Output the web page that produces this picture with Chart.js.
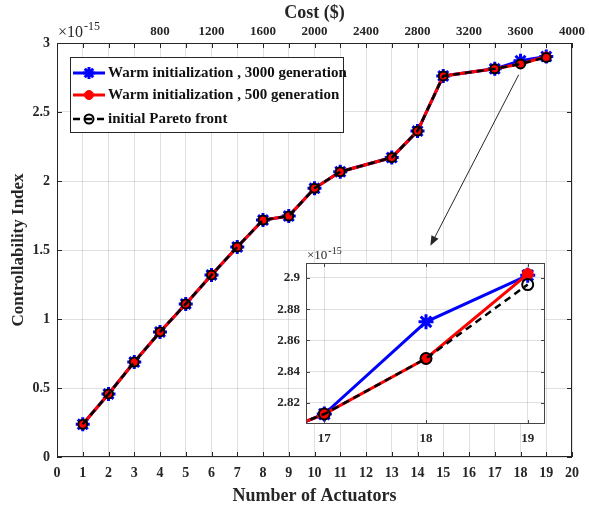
<!DOCTYPE html>
<html>
<head>
    <title>Controllability Index vs Number of Actuators</title>
    <script src="https://cdn.jsdelivr.net/npm/chart.js@4"></script>
    <style>
        body {
            margin: 0;
            background: #fff;
        }

        .wrap {
            position: relative;
            width: 589px;
            height: 508px;
        }

        #main {
            position: absolute;
            left: 0;
            top: 0;
        }

        #zoom {
            position: absolute;
            left: 262px;
            top: 245px;
        }
    </style>
</head>
<body>
<div class="wrap">
    <canvas id="main" width="589" height="508"></canvas>
    <canvas id="zoom" width="295" height="205"></canvas>
</div>

<script>
    // values are in units of 1e-15
    const actuators = [1, 2, 3, 4, 5, 6, 7, 8, 9, 10, 11, 13, 14, 15, 17, 18, 19];
    const warm3000 = [0.237, 0.457, 0.688, 0.906, 1.109, 1.319, 1.522, 1.717, 1.746, 1.947, 2.067, 2.170, 2.362, 2.761, 2.8128, 2.8719, 2.9017];
    const warm500 = [0.237, 0.457, 0.688, 0.906, 1.109, 1.319, 1.522, 1.717, 1.746, 1.947, 2.067, 2.170, 2.362, 2.761, 2.8128, 2.8484, 2.9025];
    const pareto = [0.237, 0.457, 0.688, 0.906, 1.109, 1.319, 1.522, 1.717, 1.746, 1.947, 2.067, 2.170, 2.362, 2.761, 2.8128, 2.8484, 2.8958];
    const seriesNames = ['Warm initialization , 3000 generation', 'Warm initialization , 500 generation', 'initial Pareto front'];

    const yTicksMain = [0, 0.5, 1, 1.5, 2, 2.5, 3];
    const costLabels = [800, 1200, 1600, 2000, 2400, 2800, 3200, 3600, 4000];
    const zoomXTicks = [17, 18, 19];
    const zoomYTicks = [2.82, 2.84, 2.86, 2.88, 2.9];

    const FONT = 'Liberation Serif';
    const INK = '#262626';
    const GRID = 'rgba(0,0,0,0.12)';
    Chart.defaults.font.family = FONT;
    Chart.defaults.color = INK;

    function toXY(vals) {
        return vals.map((v, i) => ({x: actuators[i], y: v}));
    }

    function makeSets(rStar, rDot) {
        return [{
            label: seriesNames[0],
            data: toXY(warm3000),
            borderColor: '#0000ff',
            backgroundColor: '#0000ff',
            borderWidth: 3,
            pointStyle: 'star',
            pointRadius: rStar,
            pointBorderWidth: 3,
            order: 3
        }, {
            label: seriesNames[1],
            data: toXY(warm500),
            borderColor: '#ff0000',
            backgroundColor: '#ff0000',
            borderWidth: 3,
            pointStyle: 'circle',
            pointRadius: rDot,
            pointBorderWidth: 1,
            order: 2
        }, {
            label: seriesNames[2],
            data: toXY(pareto),
            borderColor: '#000000',
            backgroundColor: 'rgba(0,0,0,0)',
            borderWidth: 2.5,
            borderDash: [7, 5],
            pointStyle: 'circle',
            pointRadius: rDot,
            pointBorderWidth: 2,
            order: 1
        }];
    }

    // white plot area (inset covers the main chart)
    const areaBg = {
        id: 'areaBg',
        beforeDraw(chart) {
            const {ctx, chartArea: a} = chart;
            ctx.save();
            ctx.fillStyle = '#fff';
            ctx.fillRect(a.left, a.top, a.right - a.left, a.bottom - a.top);
            ctx.restore();
        }
    };

    // matlab style box with ticks pointing inwards
    const frame = {
        id: 'frame',
        afterDraw(chart, args, opts) {
            const {ctx, chartArea: a, scales} = chart;
            const L = opts.tick;
            ctx.save();
            ctx.strokeStyle = opts.color;
            ctx.lineWidth = 1;
            ctx.beginPath();
            scales.x.ticks.forEach(t => {
                const px = Math.round(scales.x.getPixelForValue(t.value)) + 0.5;
                ctx.moveTo(px, a.bottom);
                ctx.lineTo(px, a.bottom - L);
                ctx.moveTo(px, a.top);
                ctx.lineTo(px, a.top + L);
            });
            scales.y.ticks.forEach(t => {
                const py = Math.round(scales.y.getPixelForValue(t.value)) + 0.5;
                ctx.moveTo(a.left, py);
                ctx.lineTo(a.left + L, py);
                ctx.moveTo(a.right, py);
                ctx.lineTo(a.right - L, py);
            });
            ctx.stroke();
            ctx.strokeRect(Math.round(a.left) + 0.5, Math.round(a.top) + 0.5,
                Math.round(a.right - a.left) - 1, Math.round(a.bottom - a.top) - 1);
            ctx.restore();
        }
    };

    // "x10^-15" above the y axis
    const exponent = {
        id: 'exponent',
        afterDraw(chart, args, opts) {
            const {ctx, chartArea: a} = chart;
            const x = a.left + opts.dx, y = a.top + opts.dy;
            ctx.save();
            ctx.fillStyle = INK;
            ctx.textAlign = 'left';
            ctx.textBaseline = 'alphabetic';
            ctx.font = opts.size + 'px "' + FONT + '"';
            ctx.fillText('\u00d710', x, y);
            const w = ctx.measureText('\u00d710').width;
            ctx.font = Math.round(opts.size * 0.75) + 'px "' + FONT + '"';
            ctx.fillText('-15', x + w + 1, y - opts.size * 0.42);
            ctx.restore();
        }
    };

    const legendBox = {
        id: 'legendBox',
        afterDraw(chart) {
            const {ctx, chartArea: a} = chart;
            const sets = chart.data.datasets;
            const bx = a.left + 13, by = a.top + 14, bw = 273, bh = 75;
            const rows = [16, 38, 62];
            ctx.save();
            ctx.fillStyle = '#fff';
            ctx.fillRect(bx, by, bw, bh);
            ctx.strokeStyle = INK;
            ctx.lineWidth = 1;
            ctx.strokeRect(bx + 0.5, by + 0.5, bw, bh);
            sets.forEach((ds, i) => {
                const y = by + rows[i];
                ctx.save();
                ctx.strokeStyle = ds.borderColor;
                ctx.lineWidth = ds.borderWidth;
                ctx.setLineDash(ds.borderDash || []);
                ctx.beginPath();
                ctx.moveTo(bx + 3, y);
                ctx.lineTo(bx + 35, y);
                ctx.stroke();
                ctx.setLineDash([]);
                ctx.fillStyle = ds.backgroundColor;
                ctx.lineWidth = ds.pointBorderWidth;
                Chart.helpers.drawPoint(ctx, {
                    pointStyle: ds.pointStyle,
                    radius: i === 0 ? 6 : 4.5,
                    borderWidth: ds.pointBorderWidth,
                    rotation: 0
                }, bx + 19, y);
                ctx.restore();
                ctx.fillStyle = '#111';
                ctx.font = 'bold 15px "' + FONT + '"';
                ctx.textBaseline = 'middle';
                ctx.textAlign = 'left';
                ctx.fillText(ds.label, bx + 38, y);
            });
            ctx.restore();
        }
    };

    const arrow = {
        id: 'arrow',
        afterDraw(chart, args, o) {
            const {ctx, scales: {x, y}} = chart;
            const x1 = x.getPixelForValue(o.from[0]), y1 = y.getPixelForValue(o.from[1]);
            const x2 = x.getPixelForValue(o.to[0]), y2 = y.getPixelForValue(o.to[1]);
            const ang = Math.atan2(y2 - y1, x2 - x1);
            ctx.save();
            ctx.strokeStyle = INK;
            ctx.fillStyle = INK;
            ctx.lineWidth = 1;
            ctx.beginPath();
            ctx.moveTo(x1, y1);
            ctx.lineTo(x2 - 8 * Math.cos(ang), y2 - 8 * Math.sin(ang));
            ctx.stroke();
            ctx.beginPath();
            ctx.moveTo(x2, y2);
            ctx.lineTo(x2 - 10 * Math.cos(ang) + 4 * Math.sin(ang), y2 - 10 * Math.sin(ang) - 4 * Math.cos(ang));
            ctx.lineTo(x2 - 10 * Math.cos(ang) - 4 * Math.sin(ang), y2 - 10 * Math.sin(ang) + 4 * Math.cos(ang));
            ctx.closePath();
            ctx.fill();
            ctx.restore();
        }
    };

    const tickFont = {family: FONT, size: 14, weight: 'bold'};
    const titleFont = {family: FONT, size: 18, weight: 'bold'};

    // main chart
    new Chart(document.getElementById('main').getContext('2d'), {
        type: 'line',
        data: {datasets: makeSets(7, 4.5)},
        options: {
            responsive: false,
            animation: false,
            events: [],
            layout: {padding: {right: 16}},
            plugins: {
                legend: {display: false},
                tooltip: {enabled: false},
                frame: {tick: 5, color: INK},
                exponent: {dx: 1, dy: -6, size: 16},
                arrow: {from: [17.93, 2.77], to: [14.5, 1.53]}
            },
            scales: {
                x: {
                    type: 'linear',
                    position: 'bottom',
                    min: 0,
                    max: 20,
                    afterBuildTicks: s => {
                        s.ticks = Array.from({length: 21}, (_, i) => ({value: i}));
                    },
                    ticks: {autoSkip: false, maxRotation: 0, padding: 8, color: INK, font: tickFont},
                    grid: {color: GRID, drawTicks: false},
                    border: {display: false},
                    title: {display: true, text: 'Number of Actuators', color: INK, font: titleFont, padding: {top: 0, bottom: 1}},
                    afterFit: s => { s.height = 51; }
                },
                x2: {
                    type: 'linear',
                    position: 'top',
                    min: 0,
                    max: 4000,
                    afterBuildTicks: s => {
                        s.ticks = Array.from({length: 21}, (_, i) => ({value: i * 200}));
                    },
                    ticks: {
                        autoSkip: false, maxRotation: 0, padding: 4, color: INK, font: {family: FONT, size: 13, weight: 'bold'},
                        callback: v => costLabels.includes(v) ? String(v) : ''
                    },
                    grid: {display: false, drawTicks: false},
                    border: {display: false},
                    title: {display: true, text: 'Cost ($)', color: INK, font: titleFont, padding: {top: 3, bottom: 0}},
                    afterFit: s => { s.height = 43; }
                },
                y: {
                    min: 0,
                    max: 3,
                    afterBuildTicks: s => {
                        s.ticks = yTicksMain.map(v => ({value: v}));
                    },
                    ticks: {padding: 7, color: INK, font: tickFont, callback: v => String(v)},
                    grid: {color: GRID, drawTicks: false},
                    border: {display: false},
                    title: {display: true, text: 'Controllability Index', color: INK, font: {family: FONT, size: 17, weight: 'bold'}, padding: {top: 8, bottom: 0}},
                    afterFit: s => { s.width = 57; }
                }
            }
        },
        plugins: [frame, exponent, legendBox, arrow]
    });

    // zoomed inset
    new Chart(document.getElementById('zoom').getContext('2d'), {
        type: 'line',
        data: {datasets: makeSets(7.5, 5.5)},
        options: {
            responsive: false,
            animation: false,
            events: [],
            layout: {padding: {top: 18, right: 12}},
            plugins: {
                legend: {display: false},
                tooltip: {enabled: false},
                frame: {tick: 4, color: '#444'},
                exponent: {dx: 1, dy: -4, size: 13}
            },
            scales: {
                x: {
                    type: 'linear',
                    min: 16.82,
                    max: 19.17,
                    afterBuildTicks: s => {
                        s.ticks = zoomXTicks.map(v => ({value: v}));
                    },
                    ticks: {autoSkip: false, maxRotation: 0, padding: 7, color: INK, font: {family: FONT, size: 13, weight: 'bold'}},
                    grid: {color: GRID, drawTicks: false},
                    border: {display: false},
                    afterFit: s => { s.height = 26; }
                },
                y: {
                    min: 2.8064,
                    max: 2.9096,
                    afterBuildTicks: s => {
                        s.ticks = zoomYTicks.map(v => ({value: v}));
                    },
                    ticks: {padding: 6, color: INK, font: {family: FONT, size: 13, weight: 'bold'}, callback: v => String(+v.toFixed(2))},
                    grid: {color: GRID, drawTicks: false},
                    border: {display: false},
                    afterFit: s => { s.width = 44; }
                }
            }
        },
        plugins: [areaBg, frame, exponent]
    });
</script>
</body>
</html>
